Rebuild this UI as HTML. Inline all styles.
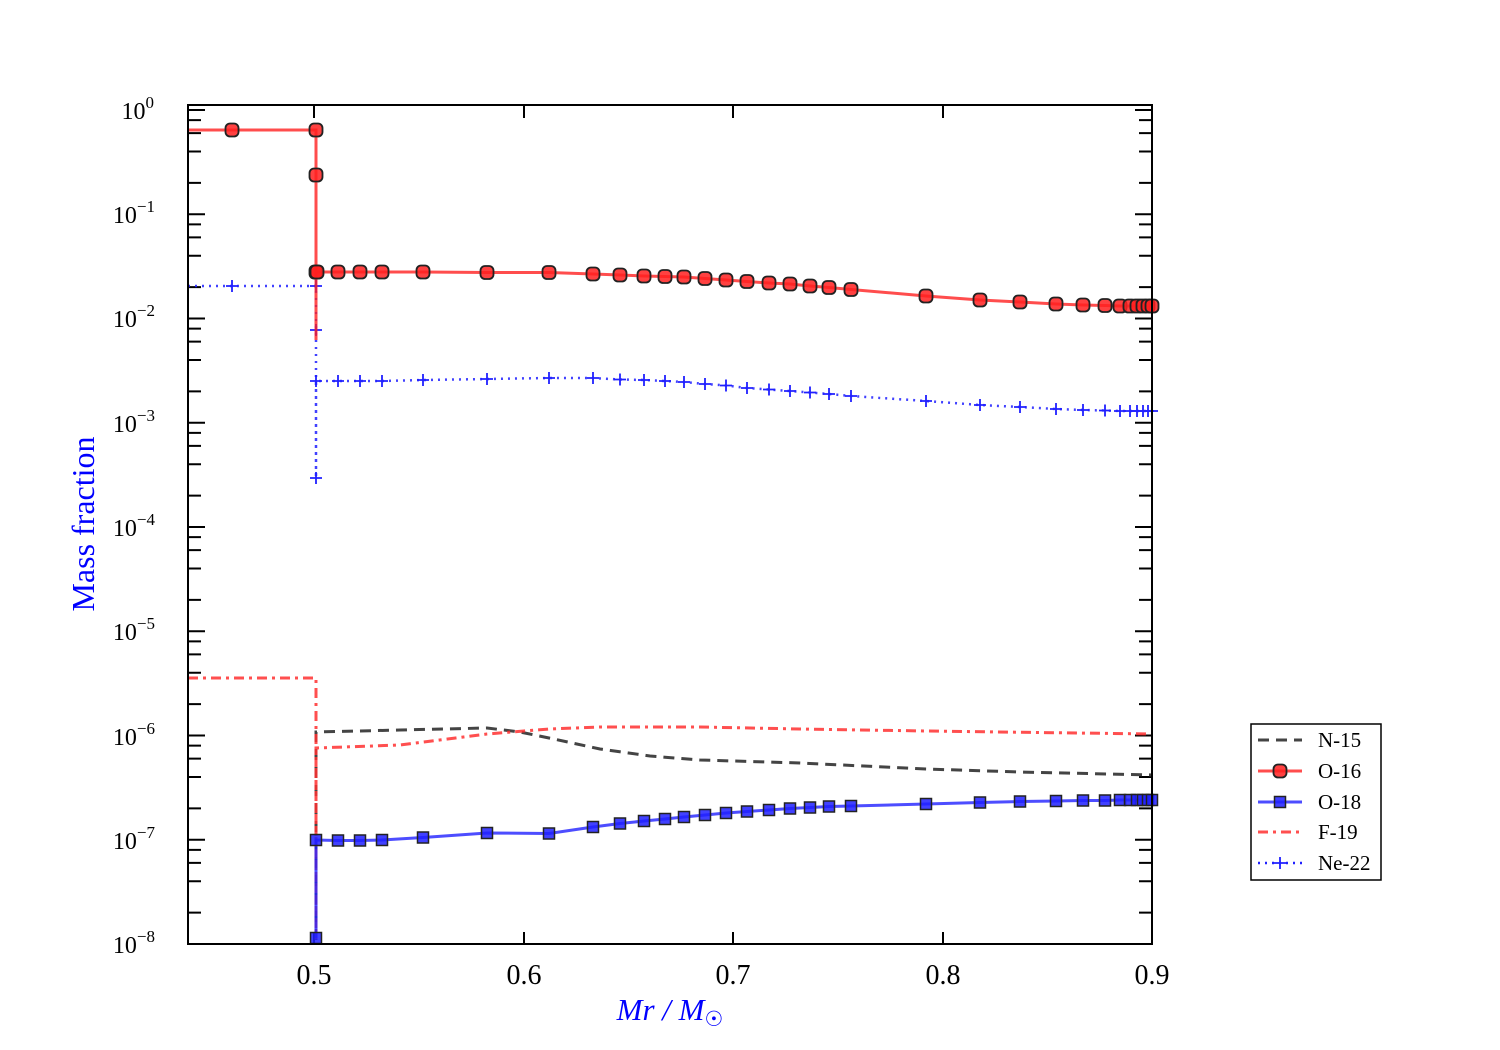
<!DOCTYPE html>
<html><head><meta charset="utf-8"><style>
body{margin:0;background:#fff}
svg{display:block}
text{font-family:"Liberation Serif",serif}
</style></head><body>
<svg width="1500" height="1050" viewBox="0 0 1500 1050" xmlns="http://www.w3.org/2000/svg">
<defs>
<marker id="mc" markerUnits="userSpaceOnUse" markerWidth="16" markerHeight="16" refX="8" refY="8" overflow="visible">
<rect x="1.5" y="1.5" width="13" height="13" rx="4.5" fill="#ff2020" fill-opacity="0.85" stroke="#222" stroke-width="1.8"/></marker>
<marker id="ms" markerUnits="userSpaceOnUse" markerWidth="16" markerHeight="16" refX="8" refY="8" overflow="visible">
<rect x="2.5" y="2.5" width="11" height="11" fill="#2020ff" fill-opacity="0.85" stroke="#222" stroke-width="1.5"/></marker>
<marker id="mp" markerUnits="userSpaceOnUse" markerWidth="14" markerHeight="14" refX="7" refY="7" overflow="visible">
<path d="M1 7H13M7 1V13" stroke="#2020ff" stroke-width="1.8"/></marker>
<g id="dec" stroke="#000" stroke-width="2">
<path d="M188 944h17M1152 944h-17M188 912.6h13M1152 912.6h-13M188 881.2h13M1152 881.2h-13M188 862.9h13M1152 862.9h-13M188 849.9h13M1152 849.9h-13"/>
</g>
</defs>
<use href="#dec"/><use href="#dec" transform="translate(0,-104.25)"/><use href="#dec" transform="translate(0,-208.5)"/><use href="#dec" transform="translate(0,-312.75)"/><use href="#dec" transform="translate(0,-417)"/><use href="#dec" transform="translate(0,-521.25)"/><use href="#dec" transform="translate(0,-625.5)"/><use href="#dec" transform="translate(0,-729.75)"/>
<path d="M188 110h17M1152 110h-17" stroke="#000" stroke-width="2"/>
<path d="M314 945v-13M524 945v-13M733 945v-13M943 945v-13M314 105v13M524 105v13M733 105v13M943 105v13" stroke="#000" stroke-width="2"/>

<!-- N-15 -->
<polyline fill="none" stroke="#444" stroke-width="3" stroke-dasharray="11,7" points="316,940 316,732 400,730 487,728 520,732 549,738 600,749 650,756 700,760 800,763 926,769 1020,772 1152,775"/>
<!-- F-19 -->
<polyline fill="none" stroke="#ff3030" stroke-opacity="0.85" stroke-width="3" stroke-dasharray="10,5,3,5" points="188,678 316,678 316,940 316,748 400,745 487,734 549,729 600,727 700,727 800,729 926,731 1152,734"/>
<!-- Ne-22 -->
<polyline fill="none" stroke="#2020ff" stroke-opacity="0.85" stroke-width="2.5" stroke-dasharray="2,5" marker-mid="url(#mp)" marker-end="url(#mp)" points="188,286 232,286 316,286 316,330 316,478 316,381 338,381 360,381 382,381 423,380 487,379 549,378 593,378 620,379.5 644,380 665,381 684,382 705,384 726,385.5 747,388 769,389.5 790,391 810,392.5 829,394 851,396 926,401 980,405 1020,407 1056,409 1083,410 1105,410.5 1120,411 1130,411 1137,411 1143,411 1148,411 1152,411"/>
<!-- O-18 -->
<polyline fill="none" stroke="#2020ff" stroke-opacity="0.8" stroke-width="3" marker-mid="url(#ms)" marker-start="url(#ms)" marker-end="url(#ms)" points="316,938 316,840 338,840.5 360,840.5 382,840 423,837.5 487,833 549,833.5 593,827 620,823.5 644,821 665,819 684,817 705,815 726,813 747,811.5 769,810 790,808.5 810,807.5 829,806.5 851,806 926,804 980,802.5 1020,801.5 1056,801 1083,800.5 1105,800.5 1120,800 1130,800 1137,800 1143,800 1148,800 1152,800"/>
<!-- O-16 -->
<polyline fill="none" stroke="#ff2020" stroke-opacity="0.8" stroke-width="3" points="316,272 316,340"/>
<polyline fill="none" stroke="#ff2020" stroke-opacity="0.8" stroke-width="3" marker-mid="url(#mc)" marker-end="url(#mc)" points="188,130 232,130 316,130 316,175 316,272 317,272 338,272 360,272 382,272 423,272 487,272.5 549,272.5 593,274 620,275 644,276 665,276.5 684,277 705,278.5 726,280 747,281.5 769,283 790,284 810,286 829,287.5 851,289.5 926,296 980,300 1020,302 1056,304 1083,305 1105,305.5 1120,306 1130,306 1137,306 1143,306 1148,306 1152,306"/>

<rect x="188" y="105" width="964" height="839" fill="none" stroke="#000" stroke-width="2"/>

<!-- y labels -->
<g font-size="24" text-anchor="end">
<text x="155" y="953">10<tspan font-size="17" dy="-11">−8</tspan></text>
<text x="155" y="849">10<tspan font-size="17" dy="-11">−7</tspan></text>
<text x="155" y="745">10<tspan font-size="17" dy="-11">−6</tspan></text>
<text x="155" y="640">10<tspan font-size="17" dy="-11">−5</tspan></text>
<text x="155" y="536">10<tspan font-size="17" dy="-11">−4</tspan></text>
<text x="155" y="432">10<tspan font-size="17" dy="-11">−3</tspan></text>
<text x="155" y="327">10<tspan font-size="17" dy="-11">−2</tspan></text>
<text x="155" y="223">10<tspan font-size="17" dy="-11">−1</tspan></text>
<text x="154" y="119">10<tspan font-size="17" dy="-11">0</tspan></text>
</g>
<!-- x labels -->
<g font-size="28" text-anchor="middle">
<text x="314" y="984">0.5</text><text x="524" y="984">0.6</text><text x="733" y="984">0.7</text><text x="943" y="984">0.8</text><text x="1152" y="984">0.9</text>
</g>
<text x="670" y="1020" font-size="31" fill="#0000ff" text-anchor="middle" font-style="italic">Mr / M<tspan font-style="normal" font-size="21" dy="6">☉</tspan></text>
<text transform="translate(94,524) rotate(-90)" font-size="32" fill="#0000ff" text-anchor="middle">Mass fraction</text>

<!-- legend -->
<rect x="1251" y="724" width="130" height="156" fill="#fff" stroke="#000" stroke-width="1.5"/>
<path d="M1258 740h44" stroke="#444" stroke-width="3" stroke-dasharray="11,7"/>
<path d="M1258 771h44" stroke="#ff2020" stroke-opacity="0.8" stroke-width="3"/>
<path d="M1258 771h22" stroke="none" fill="none" marker-end="url(#mc)"/>
<path d="M1258 802h44" stroke="#2020ff" stroke-opacity="0.8" stroke-width="3"/>
<path d="M1258 802h22" stroke="none" fill="none" marker-end="url(#ms)"/>
<path d="M1258 832h44" stroke="#ff3030" stroke-opacity="0.85" stroke-width="3" stroke-dasharray="10,5,3,5"/>
<path d="M1258 863h44" stroke="#2020ff" stroke-width="2.5" stroke-dasharray="2,5"/>
<path d="M1258 863h22" stroke="none" fill="none" marker-end="url(#mp)"/>
<g font-size="21">
<text x="1318" y="747">N-15</text><text x="1318" y="778">O-16</text><text x="1318" y="809">O-18</text><text x="1318" y="839">F-19</text><text x="1318" y="870">Ne-22</text>
</g>
</svg>
</body></html>
